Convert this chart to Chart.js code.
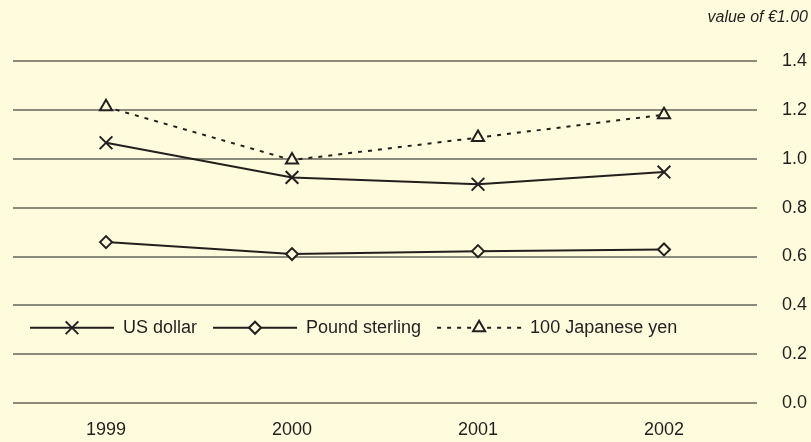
<!DOCTYPE html>
<html>
<head>
<meta charset="utf-8">
<script src="https://cdn.jsdelivr.net/npm/chart.js@4.4.0/dist/chart.umd.min.js"></script>
<style>
  html, body { margin: 0; padding: 0; background: #fffbdc; }
  #wrap { width: 811px; height: 442px; position: relative; }
</style>
</head>
<body>
<div id="wrap"><canvas id="chart" width="811" height="442"></canvas></div>
<script>
// value of one euro, yearly averages
const years = ['1999', '2000', '2001', '2002'];
const usDollar = [1.066, 0.924, 0.896, 0.946];
const poundSterling = [0.659, 0.610, 0.622, 0.629];
const japaneseYen100 = [1.213, 0.995, 1.087, 1.181];

const ink = '#231f20';
const bg = '#fffbdc';
const gridColor = '#8c8b7b';
const fontFamily = '"Liberation Sans", Arial, sans-serif';

// line + marker samples drawn inside the plot, between the 0.2 and 0.4 lines
const insideLegend = {
    id: 'insideLegend',
    afterDraw(chart) {
        const ctx = chart.ctx;
        const y = chart.scales.y.getPixelForValue(0.3) - 2;
        const sampleW = 84;
        let x = 30;
        ctx.save();
        ctx.font = '18px ' + fontFamily;
        ctx.textBaseline = 'middle';
        chart.data.datasets.forEach(ds => {
            ctx.strokeStyle = ink;
            ctx.lineWidth = 2;
            ctx.setLineDash(ds.borderDash || []);
            ctx.beginPath();
            ctx.moveTo(x, y);
            ctx.lineTo(x + sampleW, y);
            ctx.stroke();
            ctx.setLineDash([]);
            ctx.fillStyle = bg;
            Chart.helpers.drawPoint(ctx, {
                pointStyle: ds.pointStyle,
                radius: ds.pointRadius,
                borderWidth: 2,
                rotation: 0
            }, x + sampleW / 2, y);
            ctx.fillStyle = ink;
            ctx.fillText(ds.label, x + sampleW + 9, y);
            x += sampleW + 9 + ctx.measureText(ds.label).width + 16;
        });
        ctx.restore();
    }
};

const common = {
    borderColor: ink,
    borderWidth: 2,
    pointBorderWidth: 2,
    pointBorderColor: ink,
    pointBackgroundColor: bg,
    tension: 0,
    fill: false
};

new Chart(document.getElementById('chart'), {
    type: 'line',
    data: {
        labels: years,
        datasets: [
            { ...common, label: 'US dollar', data: usDollar, pointStyle: 'crossRot', pointRadius: 9 },
            { ...common, label: 'Pound sterling', data: poundSterling, pointStyle: 'rectRot', pointRadius: 6 },
            { ...common, label: '100 Japanese yen', data: japaneseYen100, pointStyle: 'triangle', pointRadius: 7, borderDash: [4, 6] }
        ]
    },
    options: {
        responsive: false,
        animation: false,
        layout: { padding: { left: 13, right: 3, top: 8, bottom: 0 } },
        plugins: {
            legend: { display: false },
            tooltip: { enabled: false },
            title: {
                display: true,
                text: 'value of €1.00',
                align: 'end',
                color: ink,
                font: { family: fontFamily, size: 16, style: 'italic', weight: 'normal' },
                padding: { top: 0, bottom: 34 }
            }
        },
        scales: {
            x: {
                offset: true,
                grid: { display: false, drawTicks: false, tickLength: 0 },
                border: { display: false },
                ticks: { color: ink, padding: 16, font: { family: fontFamily, size: 18 } },
                afterFit(scale) { scale.height = 39; }
            },
            y: {
                position: 'right',
                min: 0,
                max: 1.4,
                grid: { color: gridColor, lineWidth: 2, drawTicks: false, tickLength: 0 },
                border: { display: false },
                ticks: {
                    stepSize: 0.2,
                    color: ink,
                    padding: 25,
                    font: { family: fontFamily, size: 18 },
                    callback: v => v.toFixed(1)
                },
                afterFit(scale) { scale.width = 51; }
            }
        }
    },
    plugins: [insideLegend]
});
</script>
</body>
</html>
